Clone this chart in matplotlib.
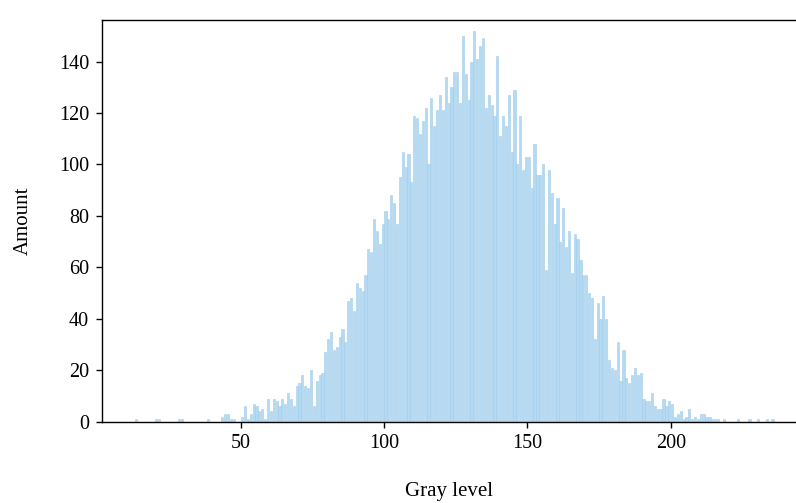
import numpy as np
import matplotlib
matplotlib.use("Agg")
import matplotlib.pyplot as plt

plt.rcParams['font.family'] = ['Liberation Serif', 'DejaVu Serif']

# histogram counts, one per gray level, starting at first_level
first_level = 13
amounts = [
    1, 0, 0, 0, 0, 0, 0, 1, 1, 0,            # 13-22
    0, 0, 0, 0, 0, 1, 1, 0, 0, 0,            # 23-32
    0, 0, 0, 0, 0, 1, 0, 0, 0, 0,            # 33-42
    2, 3, 3, 1, 1, 0, 0, 2, 6, 1,            # 43-52
    3, 7, 6, 4, 5, 1, 9, 4, 9, 8,            # 53-62
    6, 9, 7, 11, 9, 6, 14, 15, 18, 14,       # 63-72
    13, 20, 6, 16, 18, 19, 27, 32, 35, 28,   # 73-82
    29, 33, 36, 31, 47, 48, 43, 54, 52, 51,  # 83-92
    57, 67, 66, 79, 74, 69, 77, 82, 79, 88,  # 93-102
    85, 77, 95, 105, 99, 104, 93, 119, 118, 112,     # 103-112
    117, 122, 100, 126, 115, 121, 127, 121, 134, 124,  # 113-122
    130, 136, 136, 124, 150, 135, 125, 140, 152, 141,  # 123-132
    146, 149, 122, 127, 123, 119, 142, 111, 119, 115,  # 133-142
    127, 105, 129, 100, 119, 98, 103, 103, 91, 108,    # 143-152
    96, 96, 100, 59, 98, 89, 77, 87, 70, 83,   # 153-162
    68, 74, 58, 73, 71, 63, 57, 57, 50, 48,    # 163-172
    32, 46, 40, 49, 40, 24, 21, 20, 31, 16,    # 173-182
    28, 17, 15, 18, 21, 18, 19, 9, 8, 8,       # 183-192
    11, 6, 5, 5, 9, 6, 8, 7, 2, 3,             # 193-202
    4, 1, 2, 5, 1, 2, 1, 3, 3, 2,              # 203-212
    2, 1, 1, 1, 0, 1, 0, 0, 0, 0,              # 213-222
    1, 0, 0, 0, 1, 0, 0, 1, 0, 0,              # 223-232
    1, 0, 1,                                   # 233-235
]

x_ticks = [50, 100, 150, 200]
y_ticks = [0, 20, 40, 60, 80, 100, 120, 140]

levels = np.arange(first_level, first_level + len(amounts))
counts = np.array(amounts)
keep = counts > 0

fig = plt.figure(figsize=(7.96, 5.03), dpi=100)
ax = fig.add_axes([0.1278, 0.1616, 0.8722, 0.7988])

ax.bar(levels[keep] + 0.5, counts[keep], width=0.75,
       color='#b4d9f2', edgecolor='#a3cdeb', linewidth=0.4)

ax.set_xlim(1.5, 243.7)
ax.set_ylim(0, 156.2)
ax.set_xticks(x_ticks)
ax.set_yticks(y_ticks)

ax.spines['right'].set_visible(False)
for s in ['left', 'bottom', 'top']:
    ax.spines[s].set_linewidth(1.0)
    ax.spines[s].set_color('black')

ax.tick_params(direction='out', length=4, width=1.0, labelsize=14.5, pad=5)
ax.set_xlabel('Gray level', fontsize=15, labelpad=21)
ax.set_ylabel('Amount', fontsize=15, labelpad=19)

fig.savefig('out.png', dpi=100)
